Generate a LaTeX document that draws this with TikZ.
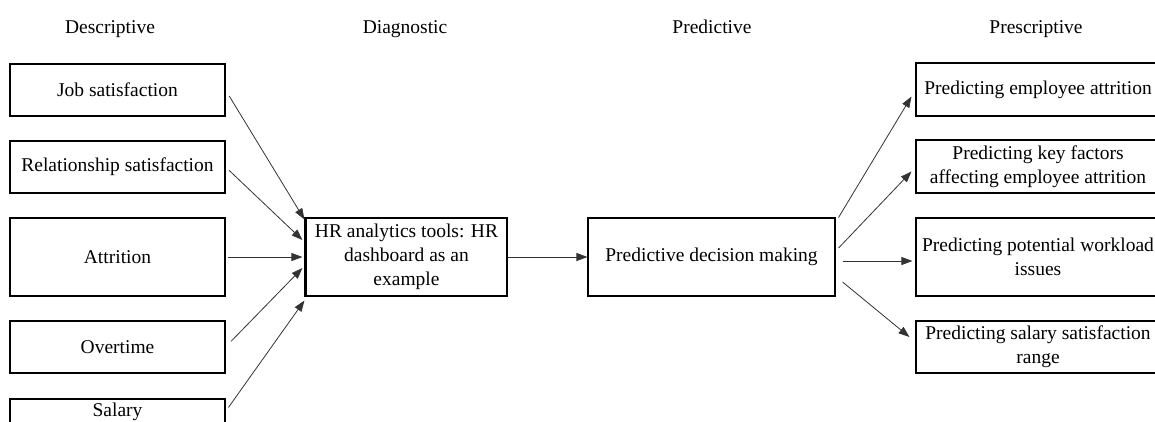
\documentclass[tikz,border=0pt]{standalone}
\usepackage{fontspec}
\setmainfont{Liberation Serif}
\usetikzlibrary{arrows.meta,calc}

\tikzset{
  box/.style={draw, line width=1.1pt, align=center, inner sep=2pt},
  heading/.style={anchor=base},
  arr/.style={-{Triangle[length=11pt,width=8pt]}, line width=0.8pt, draw=black!80},
}

\begin{document}
\begin{tikzpicture}[x=1pt, y=-1pt, every node/.style={font=\fontsize{19.5}{24}\selectfont}]
      \useasboundingbox (0,0) rectangle (1155,421);
      \clip (0,0) rectangle (1155,421);
      % column headings
      \node[heading] (hdesc) at (110,33) {Descriptive};
      \node[heading] (hdiag) at (405,33) {Diagnostic};
      \node[heading] (hpred) at (712,33) {Predictive};
      \node[heading] (hpres) at (1036,33) {Prescriptive};
      % descriptive boxes
      \node[box, minimum width=215, minimum height=52] (job) at (117.5,90) {Job satisfaction};
      \node[box, minimum width=215, minimum height=52] (rel) at (117.5,167) {Relationship satisfaction};
      \node[box, minimum width=215, minimum height=78] (att) at (117.5,257) {Attrition};
      \node[box, minimum width=215, minimum height=52] (ovt) at (117.5,347) {Overtime};
      \node[box, minimum width=215, minimum height=25] (sal) at (117.5,411.5) {Salary};
      % diagnostic box
      \node[box, minimum width=201, minimum height=78] (hr) at (406.5,257) {HR analytics tools: HR\\dashboard as an\\example};
      \draw[line width=2.4pt] (hr.north west) -- (hr.south west);
      % predictive box
      \node[box, minimum width=247, minimum height=78] (dec) at (711.5,257) {Predictive decision making};
      % prescriptive boxes
      \node[box, minimum width=244, minimum height=53] (pa1) at (1038,89.5) {Predicting employee attrition};
      \node[box, minimum width=244, minimum height=53] (pa2) at (1038,166.5) {Predicting key factors\\affecting employee attrition};
      \node[box, minimum width=244, minimum height=78] (pa3) at (1038,257) {Predicting potential workload\\issues};
      \node[box, minimum width=244, minimum height=52] (pa4) at (1038,347) {Predicting salary satisfaction\\range};
      % arrows into the dashboard
      \draw[arr, shorten <=7pt] (job.east) -- ($(hr.north west)+(-1,2)$);
      \draw[arr, shorten <=5pt] (rel.east) -- ($(hr.west)+(-3,-17)$);
      \draw[arr, shorten <=2pt] (att.east) -- ($(hr.west)+(-3,0)$);
      \draw[arr, shorten <=8pt] (ovt.east) -- ($(hr.west)+(-3,11)$);
      \draw[arr, shorten <=5pt] (sal.east) -- ($(hr.south west)+(-1,4)$);
      % dashboard to decision making
      \draw[arr] (hr.east) -- (dec.west);
      % arrows out of decision making
      \draw[arr] ($(dec.north east)+(3,0)$) -- ($(pa1.west)+(-4,7)$);
      \draw[arr] ($(dec.east)+(3,-9)$) -- ($(pa2.west)+(-4,5)$);
      \draw[arr] ($(dec.east)+(7,4)$) -- ($(pa3.west)+(-3,4)$);
      \draw[arr] ($(dec.east)+(7,25)$) -- ($(pa4.west)+(-6,-10)$);
\end{tikzpicture}
\end{document}
